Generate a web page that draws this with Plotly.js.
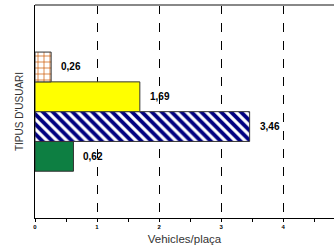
<!DOCTYPE html>
<html>
<head>
<meta charset="utf-8">
<script src="https://cdn.plot.ly/plotly-3.0.1.min.js"></script>
<style>html,body{margin:0;padding:0;background:#fff;}#chart{width:334px;height:250px;}</style>
</head>
<body>
<div id="chart"></div>
<script>
// Data (bottom to top)
var categories = ['Grup 4', 'Grup 3', 'Grup 2', 'Grup 1'];
var values = [0.62, 3.46, 1.69, 0.26];
var xTicks = [0, 1, 2, 3, 4];
var xTickLabels = ['0', '1', '2', '3', '4'];

var fillColors = ['#0d7f42', '#ffffff', '#ffff00', '#ffffff'];
var patternShapes = ['', '\\', '', '+'];
var patternFg = ['#0d7f42', '#000080', '#ffff00', '#cc5500'];
var patternSize = [8, 7, 8, 6];
var patternSolidity = [0.3, 0.55, 0.3, 0.22];

var traces = categories.map(function (c, i) {
  var marker = {color: fillColors[i], line: {color: '#333333', width: 1}};
  if (patternShapes[i]) {
    marker.pattern = {shape: patternShapes[i], fgcolor: patternFg[i], bgcolor: fillColors[i],
      size: patternSize[i], solidity: patternSolidity[i], fillmode: 'replace'};
  }
  return {
    type: 'bar', orientation: 'h',
    y: [c], x: [values[i]], width: 1,
    marker: marker, hoverinfo: 'none'
  };
});

var annotations = values.map(function (v, i) {
  return {
    x: v, y: categories[i], xref: 'x', yref: 'y',
    text: v.toFixed(2).replace('.', ','),
    showarrow: false, xanchor: 'left', yanchor: 'middle', xshift: 8,
    font: {family: 'Liberation Sans, Arial, sans-serif', size: 10, color: '#000', weight: 'bold'}
  };
});

var layout = {
  width: 334, height: 250,
  margin: {l: 35, r: 0, t: 5, b: 32},
  paper_bgcolor: '#fff', plot_bgcolor: '#fff',
  showlegend: false,
  barmode: 'overlay',
  bargap: 0,
  font: {family: 'Liberation Sans, Arial, sans-serif'},
  xaxis: {
    range: [0, 4.82],
    tickvals: xTicks, ticktext: xTickLabels,
    tickfont: {size: 6, color: '#000', weight: 'bold'},
    ticks: 'outside', ticklen: 3, tickcolor: '#000',
    minor: {dtick: 0.5, ticks: 'outside', ticklen: 3, tickcolor: '#000', showgrid: false},
    showgrid: true, gridcolor: '#000', griddash: 'dash', gridwidth: 1,
    zeroline: false,
    showline: true, linecolor: '#000', linewidth: 1,
    title: {text: 'Vehicles/plaça', font: {size: 11.5, color: '#333'}, standoff: 5}
  },
  yaxis: {
    type: 'category',
    categoryorder: 'array', categoryarray: categories,
    range: [-2.07, 5.08],
    showticklabels: false, ticks: '',
    showgrid: false, zeroline: false,
    showline: true, linecolor: '#000', linewidth: 1,
    title: {text: "TIPUS D'USUARI", font: {size: 10, color: '#333'}, standoff: 8}
  },
  shapes: [{type: 'line', xref: 'paper', yref: 'paper', x0: 0, x1: 1, y0: 1, y1: 1, line: {color: '#888', width: 2}}],
  annotations: annotations
};

Plotly.newPlot('chart', traces, layout, {displayModeBar: false, staticPlot: true});
</script>
</body>
</html>
